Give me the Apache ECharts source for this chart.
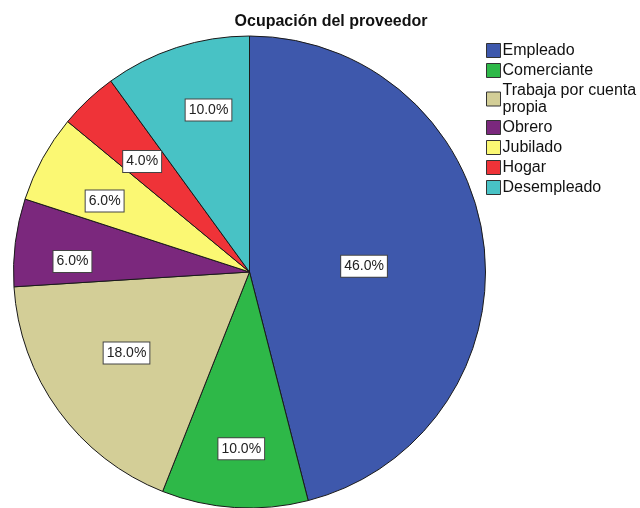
<!DOCTYPE html>
<html>
<head>
<meta charset="utf-8">
<script src="https://cdn.jsdelivr.net/npm/echarts@6/dist/echarts.min.js"></script>
<style>html,body{margin:0;padding:0;background:#fff}#c{width:640px;height:508px}</style>
</head>
<body>
<div id="c"></div>
<script>
const title = 'Ocupación del proveedor';
const categories = ['Empleado', 'Comerciante', 'Trabaja por cuenta propia', 'Obrero', 'Jubilado', 'Hogar', 'Desempleado'];
const values = [46, 10, 18, 6, 6, 4, 10];
const colors = ['#3E58AC', '#2EB848', '#D3CE97', '#7B287D', '#FBF873', '#EF3338', '#48C2C5'];
// label placement (style): distance from centre as a fraction of the radius, plus a small pixel nudge
const labelRadius = [0.485, 0.746, 0.621, 0.752, 0.683, 0.658, 0.714];
const labelNudgeX = [-2, 3, -2, 2, -1, 1, 12];
const labelNudgeY = [9, -2, -7, 12, 8, 5, 1];

const R = 236;
const C = [249.5, 272];
const FONT = '"Liberation Sans", Arial, sans-serif';

const chart = echarts.init(document.getElementById('c'), null, {renderer: 'canvas'});

const baseData = categories.map((n, i) => ({name: n, value: values[i], itemStyle: {color: colors[i]}}));

const series = [{
  type: 'pie',
  center: C,
  radius: [0, R],
  startAngle: 90,
  clockwise: true,
  avoidLabelOverlap: false,
  silent: true,
  data: baseData,
  itemStyle: {borderColor: '#1a1a1a', borderWidth: 1},
  label: {show: false},
  labelLine: {show: false},
  emphasis: {disabled: true},
  z: 2
}];

categories.forEach((n, i) => {
  series.push({
    type: 'pie',
    center: C,
    radius: [0, 2 * labelRadius[i] * R],
    startAngle: 90,
    clockwise: true,
    avoidLabelOverlap: false,
    silent: true,
    data: categories.map((nm, j) => ({name: nm, value: values[j], label: {show: j === i}})),
    itemStyle: {color: 'rgba(0,0,0,0)', borderWidth: 0},
    label: {
      position: 'inside',
      rotate: 0,
      formatter: p => p.percent.toFixed(1) + '%',
      fontFamily: FONT,
      fontSize: 14,
      color: '#222',
      backgroundColor: '#fff',
      borderColor: '#444',
      borderWidth: 1,
      padding: [4, 3, 3, 3]
    },
    labelLayout: {dx: labelNudgeX[i], dy: labelNudgeY[i]},
    labelLine: {show: false},
    emphasis: {disabled: true},
    z: 5
  });
});

chart.setOption({
  animation: false,
  backgroundColor: '#fff',
  title: {
    text: title,
    left: 326,
    textAlign: 'center',
    top: 9,
    textStyle: {fontFamily: FONT, fontSize: 16, fontWeight: 'bold', color: '#111'}
  },
  legend: {
    orient: 'vertical',
    left: 486,
    top: 42,
    data: categories,
    icon: 'rect',
    itemWidth: 14,
    itemHeight: 14,
    itemGap: 3,
    padding: 0,
    selectedMode: false,
    itemStyle: {borderColor: '#333', borderWidth: 1},
    textStyle: {fontFamily: FONT, fontSize: 16, color: '#111', lineHeight: 17, width: 140, overflow: 'break', padding: [0, 0, 0, -3]}
  },
  series: series
});
</script>
</body>
</html>
